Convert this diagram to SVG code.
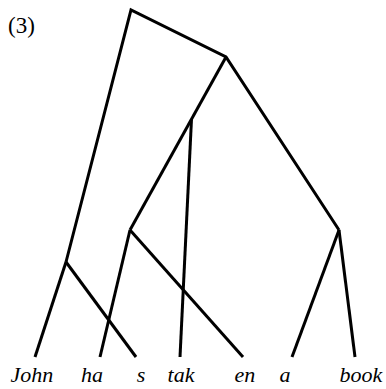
<svg xmlns="http://www.w3.org/2000/svg" width="386" height="389" viewBox="0 0 386 389">
<style>
.e{stroke:#000;stroke-width:3;fill:none;stroke-linecap:butt;stroke-linejoin:miter}
.w{font-family:"Liberation Serif","DejaVu Serif",serif;font-style:italic;font-size:22px;fill:#000;text-anchor:middle}
.n{font-family:"Liberation Serif","DejaVu Serif",serif;font-size:23px;fill:#000}
</style>
<rect width="386" height="389" fill="#fff"/>
<text class="n" x="8" y="33">(3)</text>
<g id="connectors">
<polyline class="e" points="66,262 131,10 226,57 339,230"/>
<line class="e" x1="226" y1="57" x2="130" y2="230"/>
<line class="e" x1="191.5" y1="119" x2="180" y2="357"/>
<line class="e" x1="130" y1="230" x2="100" y2="357"/>
<line class="e" x1="130" y1="230" x2="243" y2="357"/>
<line class="e" x1="66" y1="262" x2="35" y2="357"/>
<line class="e" x1="66" y1="262" x2="136" y2="357"/>
<line class="e" x1="339" y1="230" x2="292" y2="357"/>
<line class="e" x1="339" y1="230" x2="355" y2="357"/>
</g>
<g id="john"><text class="w" x="32" y="382">John</text></g>
<g id="ha"><text class="w" x="92" y="382">ha</text></g>
<g id="s"><text class="w" x="141" y="382">s</text></g>
<g id="tak"><text class="w" x="181" y="382">tak</text></g>
<g id="en"><text class="w" x="245" y="382">en</text></g>
<g id="a"><text class="w" x="285" y="382">a</text></g>
<g id="book"><text class="w" x="361" y="382">book</text></g>
</svg>
